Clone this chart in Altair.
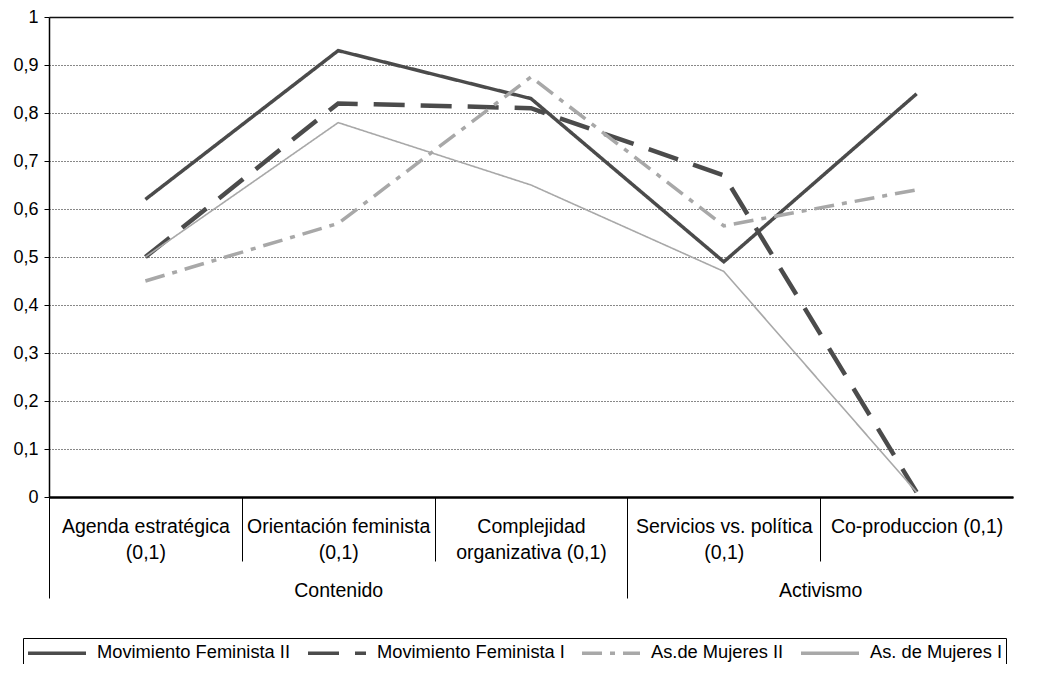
import json
import altair as alt
import pandas as pd

# ---------------- data ----------------
categories = [
    "Agenda estratégica (0,1)",
    "Orientación feminista (0,1)",
    "Complejidad organizativa (0,1)",
    "Servicios vs. política (0,1)",
    "Co-produccion (0,1)",
]
cat_label_lines = [
    ["Agenda estratégica", "(0,1)"],
    ["Orientación feminista", "(0,1)"],
    ["Complejidad", "organizativa (0,1)"],
    ["Servicios vs. política", "(0,1)"],
    ["Co-produccion (0,1)"],
]
groups = ["Contenido", "Activismo"]
group_sizes = [3, 2]

series = [
    "Movimiento Feminista II",
    "Movimiento Feminista I",
    "As.de Mujeres II",
    "As. de Mujeres I",
]
mov_fem_2 = [0.62, 0.93, 0.83, 0.49, 0.84]
mov_fem_1 = [0.50, 0.82, 0.81, 0.67, 0.01]
as_muj_2 = [0.45, 0.57, 0.875, 0.565, 0.64]
as_muj_1 = [0.50, 0.78, 0.65, 0.47, 0.01]

y_ticks = [0, 0.1, 0.2, 0.3, 0.4, 0.5, 0.6, 0.7, 0.8, 0.9, 1]

# ---------------- styles ----------------
FONT = "Liberation Sans"
colors = ["#4b4b4b", "#4b4b4b", "#a8a8a8", "#a8a8a8"]
dashes = [[1, 0], [31, 16], [20, 8, 5, 8], [1, 0]]
widths = [3.5, 4.5, 3.5, 1.6]

rows = []
for s, vals in zip(series, [mov_fem_2, mov_fem_1, as_muj_2, as_muj_1]):
    for i, v in enumerate(vals):
        rows.append({"series": s, "idx": i, "value": v})
df = pd.DataFrame(rows)

n = len(categories)
xscale = alt.Scale(domain=[-0.5, n - 0.5], nice=False, zero=False)

# group boundaries / centres in category units
group_edges = [-0.5]
for g in group_sizes:
    group_edges.append(group_edges[-1] + g)
group_centers = [(a + b) / 2 for a, b in zip(group_edges[:-1], group_edges[1:])]
inner_dividers = [i + 0.5 for i in range(n - 1) if (i + 0.5) not in group_edges]
outer_dividers = group_edges[:-1]

series_js = json.dumps(series, ensure_ascii=False)
width_expr = f"{json.dumps(widths)}[indexof({series_js}, datum.series)]"
cat_label_expr = f"{json.dumps(cat_label_lines, ensure_ascii=False)}[datum.value]"
group_label_expr = (
    f"{json.dumps(groups, ensure_ascii=False)}[indexof({json.dumps(group_centers)}, datum.value)]"
)

base = alt.Chart(df)

lines = base.transform_calculate(sw=width_expr).mark_line(
    strokeCap="butt", strokeJoin="miter"
).encode(
    x=alt.X(
        "idx:Q",
        scale=xscale,
        axis=alt.Axis(
            orient="bottom",
            values=list(range(n)),
            ticks=False,
            grid=False,
            title=None,
            labelExpr=cat_label_expr,
            labelFont=FONT,
            labelFontSize=19.5,
            labelColor="black",
            labelBaseline="top",
            labelAlign="center",
            labelLineHeight=26,
            labelPadding=20,
            labelLimit=400,
            labelOverlap=False,
            labelFlush=False,
            labelAngle=0,
            domainColor="black",
            domainWidth=2.5,
        ),
    ),
    y=alt.Y(
        "value:Q",
        scale=alt.Scale(domain=[0, 1], nice=False, zero=True),
        axis=alt.Axis(
            values=y_ticks,
            title=None,
            labelExpr="replace(format(datum.value, '.1~f'), '.', ',')",
            labelFont=FONT,
            labelFontSize=18,
            labelColor="black",
            labelPadding=6,
            tickSize=5,
            tickColor="black",
            domainColor="black",
            domainWidth=1.5,
            grid=True,
            gridColor="#111111",
            gridDash={"condition": {"test": "datum.value >= 1", "value": []}, "value": [1, 2]},
            gridWidth={"condition": {"test": "datum.value >= 1", "value": 1.6}, "value": 1},
            labelOverlap=False,
        ),
    ),
    color=alt.Color(
        "series:N",
        scale=alt.Scale(domain=series, range=colors),
        legend=alt.Legend(title=None),
    ),
    strokeDash=alt.StrokeDash(
        "series:N",
        scale=alt.Scale(domain=series, range=dashes),
        legend=alt.Legend(title=None),
    ),
    strokeWidth=alt.StrokeWidth("sw:Q", scale=None, legend=None),
)

div_short = base.mark_point(opacity=0).encode(
    x=alt.X(
        "idx:Q",
        axis=alt.Axis(
            orient="bottom",
            values=inner_dividers,
            labels=False,
            domain=False,
            grid=False,
            title=None,
            ticks=True,
            tickSize=64,
            tickColor="black",
            tickWidth=1,
        ),
    )
)

div_long = base.mark_point(opacity=0).encode(
    x=alt.X(
        "idx:Q",
        axis=alt.Axis(
            orient="bottom",
            values=outer_dividers,
            labels=False,
            domain=False,
            grid=False,
            title=None,
            ticks=True,
            tickSize=101,
            tickColor="black",
            tickWidth=1,
        ),
    )
)

group_axis = base.mark_point(opacity=0).encode(
    x=alt.X(
        "idx:Q",
        axis=alt.Axis(
            orient="bottom",
            values=group_centers,
            ticks=False,
            domain=False,
            grid=False,
            title=None,
            labelExpr=group_label_expr,
            labelFont=FONT,
            labelFontSize=19.5,
            labelColor="black",
            labelBaseline="middle",
            labelAlign="center",
            labelPadding=93,
            labelOverlap=False,
            labelFlush=False,
        ),
    )
)

chart = (
    alt.layer(lines, div_short, div_long, group_axis)
    .resolve_axis(x="independent")
    .properties(
        width=964,
        height=480,
        autosize=alt.AutoSizeParams(type="none"),
        padding={"left": 41, "top": 9, "right": 10, "bottom": 167},
        background="white",
    )
    .configure_view(stroke=None)
    .configure_legend(
        orient="none",
        legendX=-26,
        legendY=621,
        direction="horizontal",
        strokeColor="black",
        strokeWidth=1,
        padding=3,
        symbolType="M-2.9,0H2.9",
        symbolSize=400,
        symbolOffset=19,
        symbolStrokeWidth=3.5,
        labelFont=FONT,
        labelFontSize=18.3,
        labelColor="black",
        labelOffset=28,
        columnPadding=10,
        labelLimit=400,
    )
)

chart.save("out.html", embed_options={"renderer": "svg", "actions": False})
